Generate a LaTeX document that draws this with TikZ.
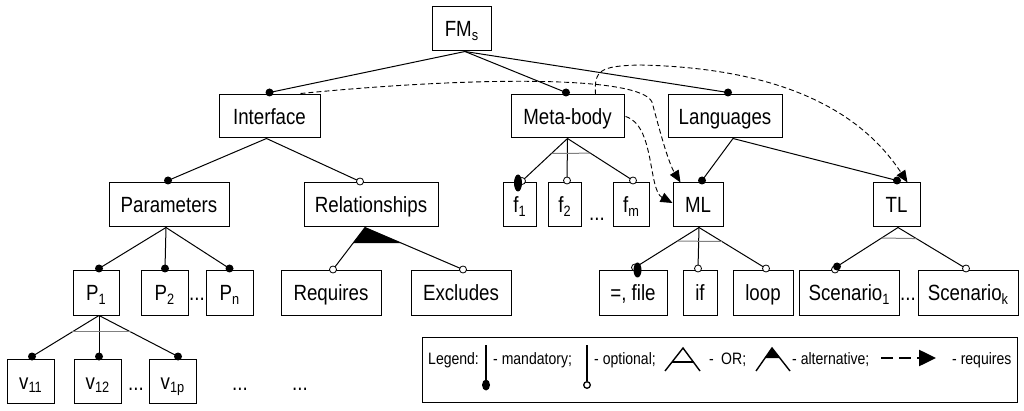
\documentclass[tikz,border=0pt]{standalone}
\usepackage{fontspec}
\setmainfont{Liberation Sans}[FakeStretch=0.85]
\usetikzlibrary{arrows.meta,calc}
\newcommand{\sbs}[1]{\raisebox{-3.5pt}{\fontsize{15}{15}\selectfont #1}}
\tikzset{
 fbox/.style={draw, line width=1pt, inner sep=0pt, minimum height=44pt, text height=20pt, text depth=4pt, font=\fontsize{22}{24}\selectfont},
 conn/.style={line width=1pt},
 reqarrow/.style={line width=0.9pt, dash pattern=on 5pt off 3pt, -{Triangle[length=12pt,width=10pt]}},
 orbar/.style={line width=1pt, gray},
 optdot/.style={draw=black, fill=white, line width=0.8pt},
 lgtext/.style={font=\fontsize{16.5}{18}\selectfont, anchor=base west, inner sep=0pt},
 dotsnode/.style={font=\fontsize{22}{24}\selectfont, anchor=base, inner sep=0pt},
}
\begin{document}
\begin{tikzpicture}[x=1pt,y=-1pt]
\useasboundingbox (0,0) rectangle (1024,411);
% boxes
\node[fbox, minimum width=59pt] (fms) at (461.5,29) {FM\sbs{s}};
\node[fbox, minimum width=101pt, minimum height=43pt] (iface) at (269.5,116.5) {Interface};
\node[fbox, minimum width=113pt, minimum height=43pt] (mbody) at (567.5,116.5) {Meta-body};
\node[fbox, minimum width=114pt, minimum height=43pt] (lang) at (725,116.5) {Languages};
\node[fbox, minimum width=120pt] (params) at (169,205) {Parameters};
\node[fbox, minimum width=134pt] (rel) at (371,205) {Relationships};
\node[fbox, minimum width=33pt] (f1) at (519.5,205) {f\sbs{1}};
\node[fbox, minimum width=33pt] (f2) at (564.5,205) {f\sbs{2}};
\node[fbox, minimum width=36pt] (fm) at (631,205) {f\sbs{m}};
\node[fbox, minimum width=50pt] (ml) at (698,205) {ML};
\node[fbox, minimum width=47pt] (tl) at (896.5,205) {TL};
\node[fbox, minimum width=46pt] (p1) at (96,293) {P\sbs{1}};
\node[fbox, minimum width=47pt] (p2) at (164.5,293) {P\sbs{2}};
\node[fbox, minimum width=47pt] (pn) at (229.5,293) {P\sbs{n}};
\node[fbox, minimum width=100pt] (reqs) at (331,293) {Requires};
\node[fbox, minimum width=100pt] (excl) at (461,293) {Excludes};
\node[fbox, minimum width=68pt] (eqf) at (633,293) {=, file};
\node[fbox, minimum width=34pt] (iff) at (700,293) {if};
\node[fbox, minimum width=60pt] (loop) at (763,293) {loop};
\node[fbox, minimum width=100pt] (sc1) at (849,293) {Scenario\sbs{1}};
\node[fbox, minimum width=100pt] (sck) at (968,293) {Scenario\sbs{k}};
\node[fbox, minimum width=47pt] (v11) at (30.5,381) {v\sbs{11}};
\node[fbox, minimum width=47pt] (v12) at (97.5,381) {v\sbs{12}};
\node[fbox, minimum width=47pt] (v1p) at (172.5,381) {v\sbs{1p}};
% ellipses
\node[dotsnode] (e1) at (197,301) {...};
\node[dotsnode] (e2) at (136,390) {...};
\node[dotsnode] (e3) at (240,390) {...};
\node[dotsnode] (e4) at (300,390) {...};
\node[dotsnode] (e5) at (597,221) {...};
\node[dotsnode] (e6) at (908,300) {...};
% parent apexes
\coordinate (a-fms) at ($(fms.south)+(3.5,0)$);
\coordinate (a-iface) at ($(iface.south)+(-3,0)$);
\coordinate (a-params) at ($(params.south)+(-3,0)$);
\coordinate (a-rel) at ($(rel.south)+(-6,0)$);
\coordinate (a-p1) at ($(p1.south)+(3,0)$);
\coordinate (a-mbody) at (mbody.south);
\coordinate (a-lang) at ($(lang.south)+(8,0)$);
\coordinate (a-ml) at ($(ml.south)+(1,0)$);
\coordinate (a-tl) at ($(tl.south)+(1.5,0)$);
% child attachment points
\coordinate (d-iface) at ($(iface.north)+(0,-2)$);
\coordinate (d-mbody) at ($(mbody.north)+(-1.5,-2)$);
\coordinate (d-lang) at ($(lang.north)+(3,-2)$);
\coordinate (d-params) at ($(params.north)+(-1,-2)$);
\coordinate (d-rel) at ($(rel.north)+(-11,-1)$);
\coordinate (d-p1) at ($(p1.north)+(3,-2)$);
\coordinate (d-p2) at ($(p2.north)+(0.5,-2)$);
\coordinate (d-pn) at ($(pn.north)+(0,-2)$);
\coordinate (d-reqs) at ($(reqs.north)+(2,-1)$);
\coordinate (d-excl) at ($(excl.north)+(2,-1)$);
\coordinate (d-v11) at ($(v11.north)+(1.5,-2)$);
\coordinate (d-v12) at ($(v12.north)+(1.5,-2)$);
\coordinate (d-v1p) at ($(v1p.north)+(5.5,-2)$);
\coordinate (d-f1) at ($(f1.north)+(2.5,-1.5)$);
\coordinate (d-f1e) at ($(f1.north)+(-1.5,0.5)$);
\coordinate (d-f2) at ($(f2.north)+(2.5,-2)$);
\coordinate (d-fm) at ($(fm.north)+(2,-2)$);
\coordinate (d-ml) at ($(ml.north)+(4,-2)$);
\coordinate (d-tl) at ($(tl.north)+(0.5,-2)$);
\coordinate (d-eqf) at ($(eqf.north)+(2,-3)$);
\coordinate (d-eqfe) at ($(eqf.north)+(4.5,-0.5)$);
\coordinate (d-iff) at ($(iff.north)+(-2,-2)$);
\coordinate (d-loop) at ($(loop.north)+(3,-2)$);
\coordinate (d-sc1) at ($(sc1.north)+(-12,-4)$);
\coordinate (d-sc1o) at ($(sc1.north)+(-14,-1)$);
\coordinate (d-sck) at ($(sck.north)+(-2,-2)$);
% connectors
\draw[conn] (d-iface) -- (a-fms) -- (d-mbody);
\draw[conn] (a-fms) -- (d-lang);
\draw[conn] (d-params) -- (a-iface) -- (d-rel);
\draw[conn] (a-params) -- (d-p1);
\draw[conn] (a-params) -- (d-p2);
\draw[conn] (a-params) -- (d-pn);
\draw[conn] (d-reqs) -- (a-rel) -- (d-excl);
\fill ($(a-rel)!0.37!(d-reqs)$) -- (a-rel) -- ($(a-rel)!0.37!(d-excl)$) -- cycle;
\draw[conn] (a-p1) -- (d-v11);
\draw[conn] (a-p1) -- (d-v12);
\draw[conn] (a-p1) -- (d-v1p);
\draw[orbar] ($(a-p1)!0.4!(d-v11)$) -- ($(a-p1)!0.4!(d-v1p)$);
\draw[conn] (a-mbody) -- (d-f1);
\draw[conn] (a-mbody) -- (d-f2);
\draw[conn] (a-mbody) -- (d-fm);
\draw[orbar] ($(a-mbody)!0.35!(d-f1)$) -- ($(a-mbody)!0.35!(d-fm)$);
\draw[conn] (d-ml) -- (a-lang) -- (d-tl);
\draw[conn] (a-ml) -- (d-eqf);
\draw[conn] (a-ml) -- (d-iff);
\draw[conn] (a-ml) -- (d-loop);
\draw[orbar] ($(a-ml)!0.34!(d-eqf)$) -- ($(a-ml)!0.34!(d-loop)$);
\draw[conn] (a-tl) -- (d-sc1);
\draw[conn] (a-tl) -- (d-sck);
\draw[orbar] ($(a-tl)!0.27!(d-sc1)$) -- ($(a-tl)!0.27!(d-sck)$);
% requires (dashed)
\coordinate (r1s) at ($(iface.north east)+(-20,-1)$);
\coordinate (r1e) at ($(ml.north west)+(8,0)$);
\draw[reqarrow] (r1s) .. controls (480,76) and (640,76) .. (652,102) .. controls (659,128) and (668,162) .. (r1e);
\coordinate (r2s) at ($(mbody.east)+(1,0)$);
\coordinate (r2e) at ($(ml.west)+(0,-2)$);
\draw[reqarrow] (r2s) .. controls (655,125) and (648,190) .. (r2e);
\coordinate (r3s) at ($(mbody.north)+(28,0)$);
\coordinate (r3e) at ($(tl.north east)+(-13,0)$);
\draw[reqarrow] (r3s) .. controls (594,70) and (600,66) .. (640,65) .. controls (780,68) and (860,110) .. (r3e);
% dots
\foreach \d in {d-iface,d-mbody,d-lang,d-params,d-p1,d-p2,d-pn,d-v11,d-v12,d-v1p,d-ml,d-tl}
  \fill (\d) circle (4pt);
\foreach \d in {d-rel,d-reqs,d-excl,d-f1,d-f2,d-fm,d-eqf,d-iff,d-loop,d-sck,d-sc1o}
  \draw[optdot] (\d) circle (3.5pt);
\fill (d-f1e) ellipse [x radius=4pt, y radius=8.5pt];
\fill (d-eqfe) ellipse [x radius=4pt, y radius=7.5pt];
\fill (d-sc1) circle (4pt);
% legend
\node[draw, line width=1pt, minimum width=595pt, minimum height=65pt, inner sep=0pt] (legend) at (719.5,369.5) {};
\node[lgtext] (lg1) at (428,364) {Legend:};
\draw[line width=1.8pt] (486,345) -- (486,381);
\fill (486,385) ellipse [x radius=4pt, y radius=5.5pt];
\node[lgtext] (lg2) at (493,364) {- mandatory;};
\draw[line width=1.8pt] (587,345) -- (587,381);
\draw[line width=1.3pt, fill=white] (587,385) circle (3.3pt);
\node[lgtext] (lg3) at (594,364) {- optional;};
\draw[line width=1.4pt] (665,371) -- (683,348) -- (700,371);
\draw[line width=1.4pt] (672,362) -- (693.5,362);
\node[lgtext] (lg4) at (709,364) {-};
\node[lgtext] (lg5) at (721,364) {OR;};
\draw[line width=1.4pt] (756,371) -- (772,348) -- (790,371);
\fill (772,348) -- (765,358) -- (780,358) -- cycle;
\node[lgtext] (lg6) at (792,364) {- alternative;};
\draw[line width=2.5pt, dash pattern=on 12pt off 6pt, -{Triangle[length=17pt,width=16pt]}] (881,358) -- (936,358);
\node[lgtext] (lg7) at (952,364) {- requires};
\end{tikzpicture}
\end{document}
